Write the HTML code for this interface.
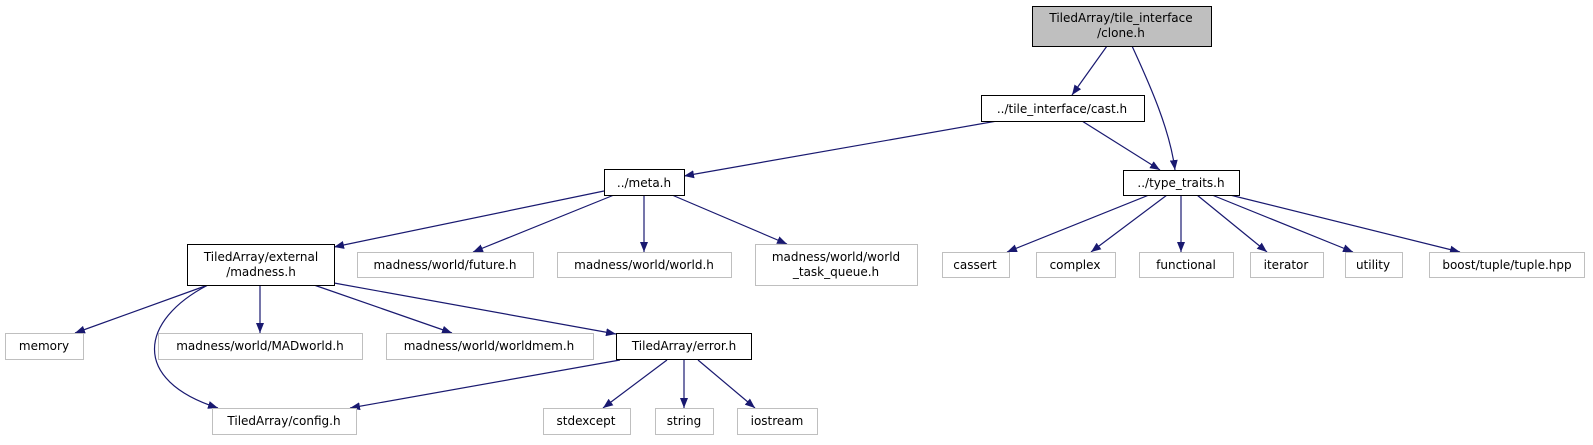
<!DOCTYPE html>
<html><head><meta charset="utf-8"><style>
body{margin:0;background:#fff}
svg text{font-family:"DejaVu Sans","Liberation Sans",sans-serif;font-size:12px;text-anchor:middle;fill:#000}
</style></head><body>
<svg width="1593" height="440" viewBox="0 0 1593 440" xmlns="http://www.w3.org/2000/svg">
<defs><marker id="a" markerWidth="10" markerHeight="8" refX="10" refY="4" orient="auto" markerUnits="userSpaceOnUse"><path d="M0,0 L10,4 L0,8 Z" fill="#191970"/></marker></defs>
<g stroke="#191970" stroke-width="1.2" fill="none" marker-end="url(#a)">
<path d="M1107,46 L1072,95"/>
<path d="M1132,46 C1150,85 1170,130 1175,170"/>
<path d="M997,121 L684,176"/>
<path d="M1082,121 L1160,170"/>
<path d="M1149,195 L1007,252"/>
<path d="M1167,195 L1091,252"/>
<path d="M1181,195 L1181,252"/>
<path d="M1197,195 L1267,252"/>
<path d="M1212,195 L1353,252"/>
<path d="M1230,195 L1460,252"/>
<path d="M604,191 L334,247"/>
<path d="M614,195 L473,252"/>
<path d="M644,195 L644,252"/>
<path d="M672,195 L787,244"/>
<path d="M208,285 L75,333"/>
<path d="M208,285 C140,320 130,380 218,408"/>
<path d="M260,285 L260,333"/>
<path d="M314,285 L452,333"/>
<path d="M334,283 L616,334"/>
<path d="M620,360 L350,408"/>
<path d="M667,360 L603,408"/>
<path d="M684,360 L684,408"/>
<path d="M698,360 L755,408"/>
</g>
<g stroke-width="1" fill="#fff">
<rect x="1032.5" y="6.5" width="179" height="40" fill="#bfbfbf" stroke="#000"/>
<rect x="981.5" y="95.5" width="163" height="26" stroke="#000"/>
<rect x="1123.5" y="170.5" width="116" height="25" stroke="#000"/>
<rect x="604.5" y="169.5" width="80" height="26" stroke="#000"/>
<rect x="187.5" y="244.5" width="147" height="41" stroke="#000"/>
<rect x="357.5" y="252.5" width="176" height="25" stroke="#bfbfbf"/>
<rect x="557.5" y="252.5" width="174" height="25" stroke="#bfbfbf"/>
<rect x="755.5" y="244.5" width="162" height="41" stroke="#bfbfbf"/>
<rect x="942.5" y="252.5" width="67" height="25" stroke="#bfbfbf"/>
<rect x="1036.5" y="252.5" width="79" height="25" stroke="#bfbfbf"/>
<rect x="1139.5" y="252.5" width="94" height="25" stroke="#bfbfbf"/>
<rect x="1250.5" y="252.5" width="73" height="25" stroke="#bfbfbf"/>
<rect x="1345.5" y="252.5" width="57" height="25" stroke="#bfbfbf"/>
<rect x="1429.5" y="252.5" width="155" height="25" stroke="#bfbfbf"/>
<rect x="5.5" y="333.5" width="78" height="26" stroke="#bfbfbf"/>
<rect x="158.5" y="333.5" width="204" height="26" stroke="#bfbfbf"/>
<rect x="386.5" y="333.5" width="207" height="26" stroke="#bfbfbf"/>
<rect x="616.5" y="333.5" width="135" height="26" stroke="#000"/>
<rect x="212.5" y="408.5" width="144" height="26" stroke="#bfbfbf"/>
<rect x="543.5" y="408.5" width="87" height="26" stroke="#bfbfbf"/>
<rect x="655.5" y="408.5" width="58" height="26" stroke="#bfbfbf"/>
<rect x="737.5" y="408.5" width="80" height="26" stroke="#bfbfbf"/>
</g>
<g textLength="0">
<text x="1121" y="22">TiledArray/tile_interface</text>
<text x="1121" y="37">/clone.h</text>
<text x="1062" y="113">../tile_interface/cast.h</text>
<text x="1181" y="187">../type_traits.h</text>
<text x="644" y="187">../meta.h</text>
<text x="261" y="261">TiledArray/external</text>
<text x="261" y="276">/madness.h</text>
<text x="445" y="269">madness/world/future.h</text>
<text x="644" y="269">madness/world/world.h</text>
<text x="836" y="261">madness/world/world</text>
<text x="836" y="276">_task_queue.h</text>
<text x="975" y="269">cassert</text>
<text x="1075" y="269">complex</text>
<text x="1186" y="269">functional</text>
<text x="1286" y="269">iterator</text>
<text x="1373" y="269">utility</text>
<text x="1507" y="269">boost/tuple/tuple.hpp</text>
<text x="44" y="350">memory</text>
<text x="260" y="350">madness/world/MADworld.h</text>
<text x="489" y="350">madness/world/worldmem.h</text>
<text x="684" y="350">TiledArray/error.h</text>
<text x="284" y="425">TiledArray/config.h</text>
<text x="586" y="425">stdexcept</text>
<text x="684" y="425">string</text>
<text x="777" y="425">iostream</text>
</g>
</svg>
</body></html>
